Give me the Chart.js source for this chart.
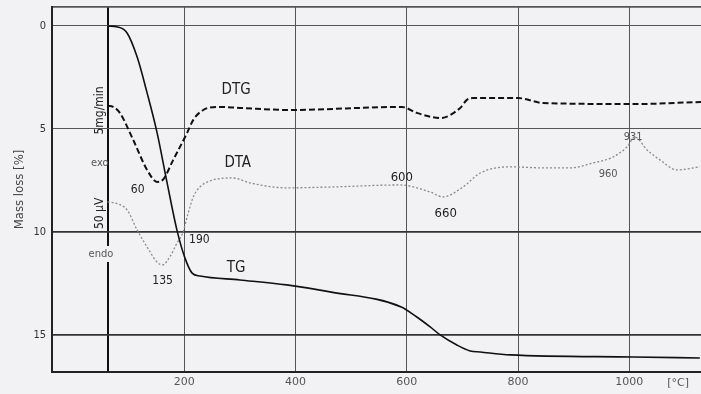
<!DOCTYPE html>
<html>
<head>
<meta charset="utf-8">
<script src="https://cdn.jsdelivr.net/npm/chart.js@4.4.1/dist/chart.umd.min.js"></script>
<style>
  html, body { margin: 0; padding: 0; background: #f2f2f4; }
  #wrap { width: 701px; height: 394px; }
</style>
</head>
<body>
<div id="wrap"><canvas id="tgChart" width="701" height="394"></canvas></div>
<script>
// TG curve (temperature in °C, mass loss in %)
const tgTemp = [62, 80, 97, 115, 133, 151, 169, 187, 201, 214, 228, 300, 384, 462, 590, 618, 642, 660, 690, 714, 732, 786, 1007, 1127];
const tgMass = [0, 0.05, 0.34, 1.5, 3.25, 5.19, 7.62, 9.95, 11.26, 12.0, 12.14, 12.33, 12.57, 12.91, 13.64, 14.13, 14.61, 15.0, 15.49, 15.78, 15.83, 15.97, 16.07, 16.12];

// DTG curve, plotted on the same vertical grid
const dtgTemp = [62, 72, 84, 108, 133, 151, 161, 180, 205, 216, 234, 259, 300, 390, 591, 618, 660, 696, 708, 719, 800, 845, 1010, 1129];
const dtgValue = [3.88, 3.93, 4.22, 5.53, 6.99, 7.57, 7.48, 6.5, 5.19, 4.56, 4.08, 3.93, 3.98, 4.08, 3.93, 4.22, 4.47, 3.98, 3.59, 3.5, 3.5, 3.74, 3.79, 3.69];

// DTA curve
const dtaTemp = [62, 81, 97, 115, 133, 152, 161, 174, 187, 197, 206, 216, 228, 251, 287, 318, 384, 462, 588, 642, 665, 701, 732, 786, 845, 894, 935, 971, 996, 1010, 1032, 1055, 1086, 1127];
const dtaValue = [8.54, 8.64, 8.93, 9.9, 10.73, 11.5, 11.6, 11.2, 10.53, 10.05, 9.17, 8.3, 7.82, 7.48, 7.38, 7.62, 7.86, 7.82, 7.72, 8.06, 8.3, 7.82, 7.14, 6.84, 6.89, 6.89, 6.65, 6.36, 5.87, 5.39, 6.02, 6.5, 6.99, 6.84];

const xTicks = [62, 200, 400, 600, 800, 1000];   // 62 = start line of the scale bars
const yTicks = [-0.92, 0, 5, 10, 15];            // -0.92 = top frame

const toPoints = (xs, ys) => xs.map((x, i) => ({ x: x, y: ys[i] }));

// text written on the plot (temperature, value)
const notes = [
  { text: 'DTG', x: 293, y: 3.1, size: 15 },
  { text: 'DTA', x: 296, y: 6.65, size: 15 },
  { text: 'TG', x: 293, y: 11.75, size: 15 },
  { text: '60', x: 116, y: 7.95, size: 12 },
  { text: '135', x: 161, y: 12.4, size: 12 },
  { text: '190', x: 227, y: 10.4, size: 12 },
  { text: '600', x: 591, y: 7.35, size: 13 },
  { text: '660', x: 670, y: 9.1, size: 13 },
  { text: '931', x: 1007, y: 5.4, size: 11 },
  { text: '960', x: 962, y: 7.2, size: 11 },
  { text: 'exo', x: 48, y: 6.65, size: 11 },
  { text: 'endo', x: 50, y: 11.07, size: 11, box: true },
  { text: '5mg/min', x: 48, y: 4.1, size: 12, rotate: true },
  { text: '50 μV', x: 48, y: 9.1, size: 12, rotate: true }
];

const paperPlugin = {
  id: 'paper',
  beforeDraw(chart) {
    const ctx = chart.ctx;
    ctx.save();
    ctx.fillStyle = '#f2f2f4';
    ctx.fillRect(0, 0, chart.width, chart.height);
    ctx.restore();
  },
  afterDatasetsDraw(chart) {
    const ctx = chart.ctx;
    const xs = chart.scales.x, ys = chart.scales.y;
    ctx.save();
    ctx.textAlign = 'center';
    ctx.textBaseline = 'middle';
    notes.forEach(n => {
      const px = xs.getPixelForValue(n.x);
      const py = ys.getPixelForValue(n.y);
      ctx.font = `${n.size}px "DejaVu Sans Condensed", "DejaVu Sans", sans-serif`;
      ctx.fillStyle = n.size < 12 && !n.rotate ? '#555' : '#222';
      if (n.box) {
        const w = ctx.measureText(n.text).width + 4;
        ctx.fillStyle = '#f2f2f4';
        ctx.fillRect(px - w / 2, py - 8, w, 16);
        ctx.fillStyle = '#555';
      }
      if (n.rotate) {
        ctx.save();
        ctx.translate(px, py);
        ctx.rotate(-Math.PI / 2);
        ctx.fillText(n.text, 0, 0);
        ctx.restore();
      } else {
        ctx.fillText(n.text, px, py);
      }
    });
    // unit of the temperature axis
    ctx.font = '11px "DejaVu Sans", sans-serif';
    ctx.fillStyle = '#555';
    ctx.fillText('[°C]', xs.getPixelForValue(1088), chart.chartArea.bottom + 11);
    ctx.restore();
  }
};

new Chart(document.getElementById('tgChart').getContext('2d'), {
  type: 'line',
  data: {
    datasets: [{
      label: 'TG',
      data: toPoints(tgTemp, tgMass),
      borderColor: '#111',
      borderWidth: 1.6,
      pointRadius: 0,
      cubicInterpolationMode: 'monotone'
    }, {
      label: 'DTG',
      data: toPoints(dtgTemp, dtgValue),
      borderColor: '#111',
      borderWidth: 2,
      borderDash: [6, 3],
      pointRadius: 0,
      cubicInterpolationMode: 'monotone'
    }, {
      label: 'DTA',
      data: toPoints(dtaTemp, dtaValue),
      borderColor: '#8a8a8a',
      borderWidth: 1.3,
      borderDash: [2, 2],
      pointRadius: 0,
      cubicInterpolationMode: 'monotone'
    }]
  },
  options: {
    responsive: false,
    animation: false,
    layout: { padding: { left: 0, right: 0, top: 7, bottom: 0 } },
    plugins: { legend: { display: false }, tooltip: { enabled: false } },
    scales: {
      x: {
        type: 'linear',
        min: -38,
        max: 1129,
        afterBuildTicks: scale => { scale.ticks = xTicks.map(v => ({ value: v })); },
        afterFit: scale => { scale.height = 22; scale.paddingLeft = 0; scale.paddingRight = 0; },
        grid: {
          drawTicks: false,
          color: ctx => ctx.tick && ctx.tick.value === 62 ? '#111' : '#555',
          lineWidth: ctx => ctx.tick && ctx.tick.value === 62 ? 2 : 1
        },
        border: { color: '#222', width: 2 },
        ticks: {
          padding: 4,
          color: '#555',
          font: { family: 'DejaVu Sans', size: 11 },
          callback: v => v === 62 ? '' : v
        }
      },
      y: {
        type: 'linear',
        reverse: true,
        min: -0.92,
        max: 16.8,
        afterBuildTicks: scale => { scale.ticks = yTicks.map(v => ({ value: v })); },
        afterFit: scale => { scale.width = 52; scale.paddingTop = 0; scale.paddingBottom = 0; },
        grid: {
          drawTicks: false,
          color: ctx => ctx.tick && ctx.tick.value >= 10 ? '#333' : '#555',
          lineWidth: ctx => ctx.tick && (ctx.tick.value < 0 || ctx.tick.value >= 10) ? 1.8 : 1
        },
        border: { color: '#222', width: 2 },
        title: {
          display: true,
          text: 'Mass loss [%]',
          color: '#444',
          padding: { top: 12, bottom: 0 },
          font: { family: 'DejaVu Sans Condensed', size: 13 }
        },
        ticks: {
          padding: 6,
          color: '#333',
          font: { family: 'DejaVu Sans Condensed', size: 11 },
          callback: v => v < 0 ? '' : v
        }
      }
    }
  },
  plugins: [paperPlugin]
});
</script>
</body>
</html>
